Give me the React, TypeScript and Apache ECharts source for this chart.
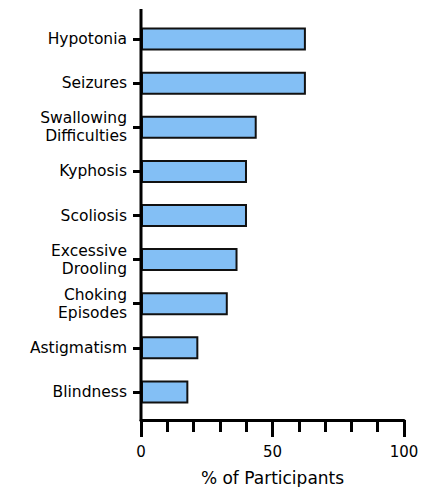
import React, { useEffect, useRef } from "react";
import * as echarts from "echarts";

const categories = [
  "Hypotonia",
  "Seizures",
  "Swallowing\nDifficulties",
  "Kyphosis",
  "Scoliosis",
  "Excessive\nDrooling",
  "Choking\nEpisodes",
  "Astigmatism",
  "Blindness",
];
const values = [62.7, 62.7, 44, 40.3, 40.3, 36.7, 33, 21.8, 18];
const xTicks = { min: 0, max: 100, interval: 50 };
const xName = "% of Participants";

const FONT = "DejaVu Sans";

export default function App() {
  const ref = useRef<HTMLDivElement>(null);
  useEffect(() => {
    if (!ref.current) return;
    const chart = echarts.init(ref.current, null, { renderer: "svg" });
    chart.setOption({
      animation: false,
      textStyle: { fontFamily: FONT },
      grid: {
        left: 141,
        right: 28,
        top: 17,
        bottom: 73,
        containLabel: false,
        outerBoundsMode: "none",
      },
      xAxis: {
        type: "value",
        min: xTicks.min,
        max: xTicks.max,
        interval: xTicks.interval,
        offset: 6,
        name: xName,
        nameLocation: "middle",
        nameGap: 49,
        nameTextStyle: { fontFamily: FONT, fontSize: 17, color: "#000" },
        axisLine: { show: true, lineStyle: { color: "#000", width: 3 } },
        axisTick: { show: true, length: 17, lineStyle: { color: "#000", width: 3 } },
        minorTick: { show: true, splitNumber: 5, length: 12, lineStyle: { color: "#000", width: 3 } },
        splitLine: { show: false },
        minorSplitLine: { show: false },
        axisLabel: { fontFamily: FONT, fontSize: 15, color: "#000", margin: 24 },
      },
      yAxis: {
        type: "category",
        inverse: true,
        data: categories,
        axisLine: { show: false },
        axisTick: { show: true, alignWithLabel: true, length: 8, lineStyle: { color: "#000", width: 3 } },
        axisLabel: {
          fontFamily: FONT,
          fontSize: 15.5,
          lineHeight: 18.2,
          color: "#000",
          margin: 14,
          align: "right",
        },
      },
      graphic: [
        {
          type: "line",
          shape: { x1: 141, y1: 9, x2: 141, y2: 421 },
          style: { stroke: "#000", lineWidth: 3 },
          z: 100,
        },
      ],
      series: [
        {
          type: "bar",
          data: values,
          barWidth: 23,
          itemStyle: { color: "#83BFF5", borderColor: "#111", borderWidth: 2 },
        },
      ],
    });
    return () => chart.dispose();
  }, []);
  return <div ref={ref} style={{ width: 432, height: 487, position: "absolute", left: 0, top: 0 }} />;
}
